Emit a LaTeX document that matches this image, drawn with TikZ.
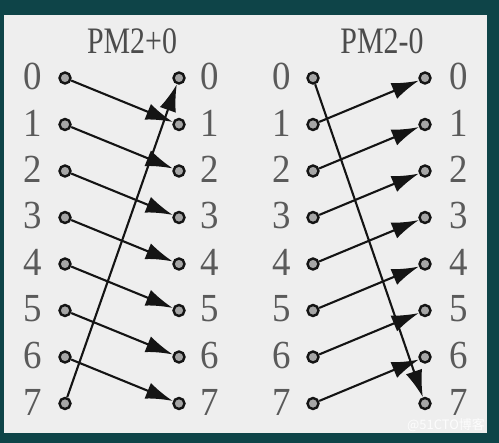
\documentclass[tikz,border=0pt]{standalone}
\usepackage{fontspec}
\newfontfamily\cjkfont{Noto Sans CJK SC}
\newfontfamily\lsfont{Liberation Serif}
\usetikzlibrary{arrows.meta}
\definecolor{frame}{HTML}{0E4448}
\definecolor{paper}{HTML}{EEEEEE}
\definecolor{lbl}{HTML}{5A5A5A}
\definecolor{ink}{HTML}{141414}
\begin{document}
\begin{tikzpicture}[x=1bp,y=-1bp,
  pin/.style={circle,draw=ink,fill=gray!70,line width=2.4bp,inner sep=0pt,minimum size=11bp},
  num/.style={text=lbl,font=\lsfont\fontsize{37}{37}\selectfont,inner sep=0pt,yscale=1.08},
  ttl/.style={text=lbl!85!black,font=\lsfont\fontsize{30}{30}\selectfont,inner sep=0pt,yscale=1.25},
  link/.style={draw=ink,line width=2.1bp,-{Latex[length=27bp,width=17bp]}},
  wmark/.style={text=white,opacity=0.85,font=\cjkfont\fontsize{13}{13}\selectfont,inner sep=0pt}
]
\fill[frame] (0,0) rectangle (499,443);
\fill[paper] (4,15) rectangle (487,433);
\useasboundingbox (0,0) rectangle (499,443);

\node[ttl] (t1) at (132,41) {PM2+0};
\node[ttl] (t2) at (382,41) {PM2-0};

\foreach \i in {0,...,7}{
  \pgfmathsetmacro\yy{78+46.5*\i}
  \pgfmathsetmacro\ly{\yy-1.5}
  \node[num] (la\i) at (33,\ly) {\i};
  \node[pin] (pa\i) at (65,\yy) {};
  \node[pin] (pb\i) at (179,\yy) {};
  \node[num] (lb\i) at (210,\ly) {\i};
  \node[num] (lc\i) at (282,\ly) {\i};
  \node[pin] (pc\i) at (313,\yy) {};
  \node[pin] (pd\i) at (425,\yy) {};
  \node[num] (ld\i) at (459,\ly) {\i};
}

% PM2+0 : i -> i+1, 7 -> 0
\foreach \i [evaluate=\i as \j using int(\i+1)] in {0,...,6}{
  \draw[link] (pa\i) -- (pb\j);
}
\draw[link] (pa7) -- (pb0);

% PM2-0 : i -> i-1, 0 -> 7
\foreach \i [evaluate=\i as \j using int(\i-1)] in {1,...,7}{
  \draw[link] (pc\i) -- (pd\j);
}
\draw[link] (pc0) -- (pd7);

\node[wmark] (wm) at (446,425) {@51CTO博客};
\end{tikzpicture}
\end{document}
